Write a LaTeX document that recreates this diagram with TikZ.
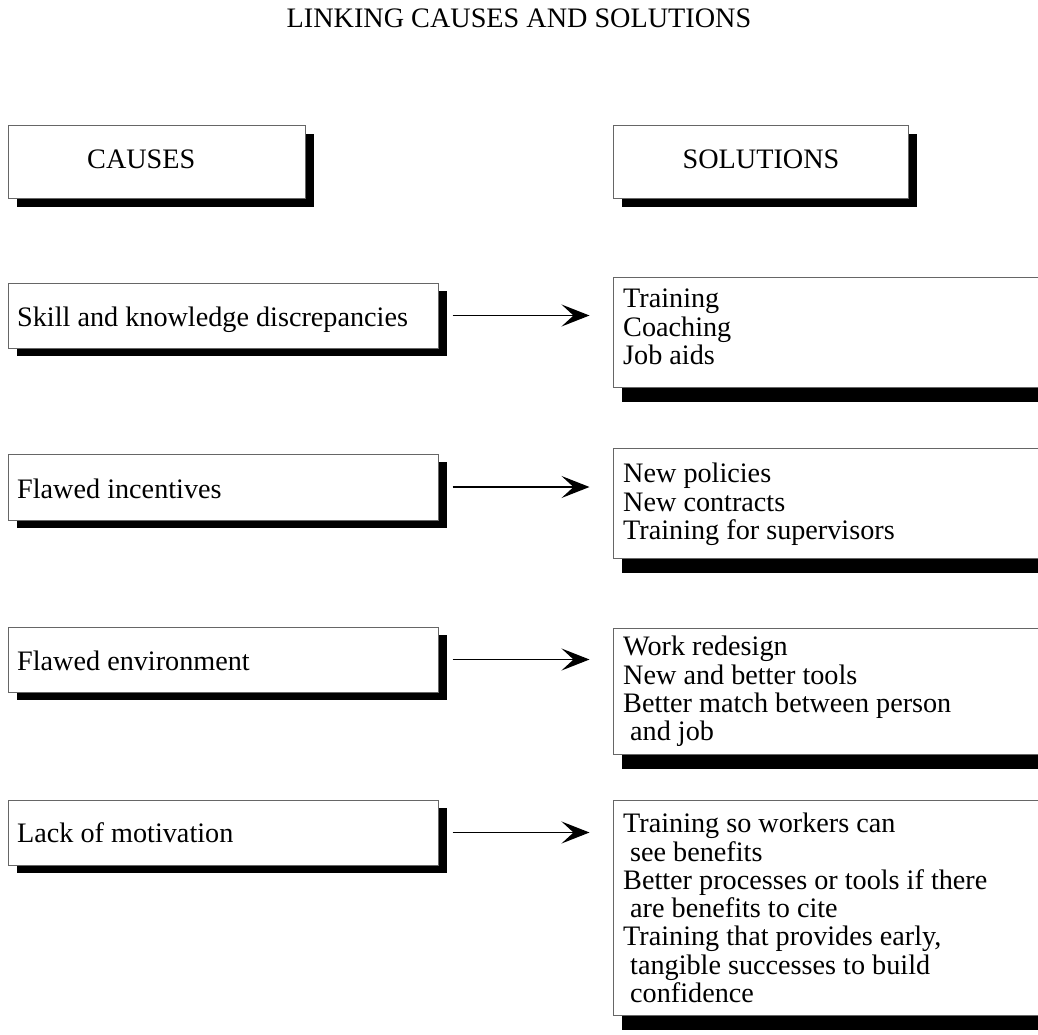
\documentclass[tikz,border=0pt]{standalone}
\usepackage{fontspec}
\setmainfont{Liberation Serif}
\usetikzlibrary{arrows.meta,shadows}
\begin{document}
\begin{tikzpicture}[x=1pt,y=-1pt,
  every node/.style={font=\fontsize{28.2}{28.3}\selectfont},
  leftbox/.style={rectangle, draw=black!60, line width=1pt, fill=white, inner sep=0pt,
    drop shadow={shadow xshift=9pt, shadow yshift=-8pt, fill=black, opacity=1}},
  rightbox/.style={rectangle, draw=black!60, line width=1pt, fill=white, inner sep=0pt,
    drop shadow={shadow xshift=9pt, shadow yshift=-15pt, fill=black, opacity=1}},
  txt/.style={inner sep=0pt, align=left},
  link/.style={line width=1.5pt, -{Stealth[length=28pt, width=22pt, inset=12pt]},
    shorten <=14pt, shorten >=23pt}]
\useasboundingbox (0,0) rectangle (1038,1035);
\clip (0,0) rectangle (1038,1035);

% title
\node[txt, anchor=base] (title) at (519,28) {LINKING CAUSES AND SOLUTIONS};

% column headers
\node[leftbox, minimum width=297pt, minimum height=73pt] (causes) at (156.5,162.5) {};
\node[txt, anchor=base west] (causestxt) at (87,169) {CAUSES};
\node[leftbox, minimum width=295pt, minimum height=73pt] (solutions) at (760.5,162.5) {};
\node[txt, anchor=base] (solutionstxt) at (761,169) {SOLUTIONS};

% causes
\node[leftbox, minimum width=430pt, minimum height=65pt] (c1) at (223,315.5) {};
\node[txt, anchor=base west] (c1t) at (17,326.5) {Skill and knowledge discrepancies};
\node[leftbox, minimum width=430pt, minimum height=66pt] (c2) at (223,487) {};
\node[txt, anchor=base west] (c2t) at (17,498) {Flawed incentives};
\node[leftbox, minimum width=430pt, minimum height=65pt] (c3) at (223,659.5) {};
\node[txt, anchor=base west] (c3t) at (17,670) {Flawed environment};
\node[leftbox, minimum width=430pt, minimum height=65pt] (c4) at (223,832.5) {};
\node[txt, anchor=base west] (c4t) at (17,842.5) {Lack of motivation};

% solutions
\node[rightbox, minimum width=447pt, minimum height=110pt] (s1) at (836.5,332) {};
\node[txt, anchor=north west] (s1t) at (623,289) {Training\\Coaching\\Job aids};
\node[rightbox, minimum width=447pt, minimum height=110pt] (s2) at (836.5,503) {};
\node[txt, anchor=north west] (s2t) at (623,463) {New policies\\New contracts\\Training for supervisors};
\node[rightbox, minimum width=447pt, minimum height=126pt] (s3) at (836.5,691) {};
\node[txt, anchor=north west] (s3t) at (623,636) {Work redesign\\New and better tools\\Better match between person\\\hspace{7pt}and job};
\node[rightbox, minimum width=447pt, minimum height=215pt] (s4) at (836.5,907.5) {};
\node[txt, anchor=north west] (s4t) at (623,813) {Training so workers can\\\hspace{7pt}see benefits\\Better processes or tools if there\\\hspace{7pt}are benefits to cite\\Training that provides early,\\\hspace{7pt}tangible successes to build\\\hspace{7pt}confidence};

% links from causes to solutions
\draw[link] (c1.east) -- (c1.east -| s1.west);
\draw[link] (c2.east) -- (c2.east -| s2.west);
\draw[link] (c3.east) -- (c3.east -| s3.west);
\draw[link] (c4.east) -- (c4.east -| s4.west);
\end{tikzpicture}
\end{document}
